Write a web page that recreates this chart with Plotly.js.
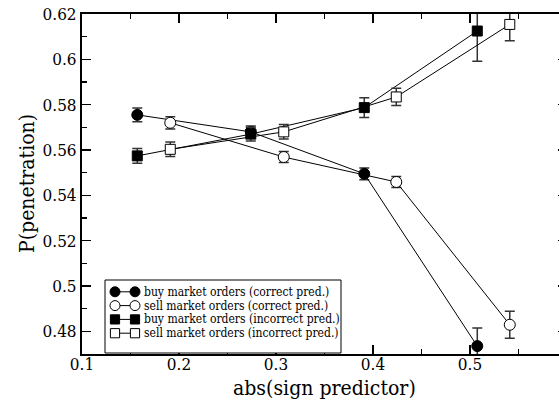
<!DOCTYPE html>
<html>
<head>
<meta charset="utf-8">
<script src="https://cdn.plot.ly/plotly-3.0.1.min.js"></script>
<style>
html,body{margin:0;padding:0;overflow:hidden;background:#fff;}
#chart{width:570px;height:403px;}
</style>
</head>
<body>
<div id="chart"></div>
<script>
// ---- data ----
var seriesNames = [
  "buy market orders (correct pred.)",
  "sell market orders (correct pred.)",
  "buy market orders (incorrect pred.)",
  "sell market orders (incorrect pred.)"
];
var xBuyCorrect  = [0.157, 0.274, 0.391, 0.5075];
var yBuyCorrect  = [0.5755, 0.568, 0.5495, 0.4735];
var eBuyCorrect  = [0.0030, 0.0026, 0.0026, 0.0080];

var xSellCorrect = [0.191, 0.308, 0.424, 0.541];
var ySellCorrect = [0.5720, 0.5569, 0.5459, 0.4829];
var eSellCorrect = [0.0027, 0.0024, 0.0024, 0.0060];

var xBuyIncorrect = [0.157, 0.274, 0.391, 0.5075];
var yBuyIncorrect = [0.5574, 0.5670, 0.5787, 0.6125];
var eBuyIncorrect = [0.0033, 0.0030, 0.0044, 0.0133];

var xSellIncorrect = [0.191, 0.308, 0.424, 0.541];
var ySellIncorrect = [0.5603, 0.5680, 0.5834, 0.6154];
var eSellIncorrect = [0.0032, 0.0032, 0.0038, 0.0072];

var xTicks = [0.1, 0.2, 0.3, 0.4, 0.5];
var xTitle = "abs(sign predictor)";
var yTitle = "P(penetration)";

// ---- styling ----
var FONT = "'DejaVu Serif Condensed', 'DejaVu Serif'";
var styles = [
  {symbol: "circle", fill: "#000000", size: 11},
  {symbol: "circle", fill: "#ffffff", size: 11},
  {symbol: "square", fill: "#000000", size: 10},
  {symbol: "square", fill: "#ffffff", size: 10}
];
var xs = [xBuyCorrect, xSellCorrect, xBuyIncorrect, xSellIncorrect];
var ys = [yBuyCorrect, ySellCorrect, yBuyIncorrect, ySellIncorrect];
var es = [eBuyCorrect, eSellCorrect, eBuyIncorrect, eSellIncorrect];

var traces = [];
for (var i = 0; i < 4; i++) {
  traces.push({
    type: "scatter",
    mode: "lines+markers",
    name: seriesNames[i],
    x: xs[i],
    y: ys[i],
    cliponaxis: true,
    line: {color: "#000000", width: 1},
    marker: {symbol: styles[i].symbol, size: styles[i].size, color: styles[i].fill,
             line: {color: "#000000", width: 1}},
    error_y: {type: "data", array: es[i], visible: true, color: "#333333",
              thickness: 1.5, width: 5},
    showlegend: false
  });
}

// ---- hand-drawn legend (layout decoration in pixel terms) ----
var PL = 82, PW = 485, PT = 14, PH = 340;
function px(v){ return (v - PL) / PW; }
function py(v){ return (PT + PH - v) / PH; }
var shapes = [];
var annotations = [];
shapes.push({type: "rect", xref: "paper", yref: "paper",
  x0: px(105), x1: px(341), y0: py(353), y1: py(280),
  line: {color: "#000000", width: 1}, fillcolor: "#ffffff", layer: "above"});
var rowY = [291.8, 305.6, 319.4, 333.2];
for (var r = 0; r < 4; r++) {
  var yc = rowY[r];
  shapes.push({type: "line", xref: "paper", yref: "paper",
    x0: px(115), x1: px(135), y0: py(yc), y1: py(yc),
    line: {color: "#000000", width: 1}, layer: "above"});
  [115, 135].forEach(function(cx){
    var h = styles[r].symbol === "circle" ? 5 : 4.6;
    shapes.push({type: styles[r].symbol === "circle" ? "circle" : "rect",
      xref: "paper", yref: "paper",
      x0: px(cx - h), x1: px(cx + h), y0: py(yc + h), y1: py(yc - h),
      fillcolor: styles[r].fill, line: {color: "#000000", width: 1}, layer: "above"});
  });
  annotations.push({xref: "paper", yref: "paper", x: px(142), y: py(yc),
    xanchor: "left", yanchor: "middle", showarrow: false,
    text: seriesNames[r], font: {family: FONT, size: 12, color: "#000000"}});
}
// axis titles placed as annotations for exact positioning
annotations.push({xref: "paper", yref: "paper", x: px(324.5), y: py(388),
  xanchor: "center", yanchor: "middle", showarrow: false,
  text: xTitle, font: {family: FONT, size: 21, color: "#000000"}});
annotations.push({xref: "paper", yref: "paper", x: px(27), y: py(184),
  xanchor: "center", yanchor: "middle", showarrow: false, textangle: -90,
  text: yTitle, font: {family: FONT, size: 21, color: "#000000"}});

var layout = {
  width: 570, height: 403,
  margin: {l: 82, r: 3, t: 14, b: 49},
  paper_bgcolor: "#ffffff", plot_bgcolor: "#ffffff",
  font: {family: FONT, color: "#000000"},
  showlegend: false,
  xaxis: {
    range: [0.1, 0.6], tickvals: xTicks, ticktext: xTicks.map(String),
    ticks: "inside", ticklen: 9, tickwidth: 1.2, tickcolor: "#000000",
    ticklabelstandoff: -6,
    showline: true, linewidth: 2, linecolor: "#000000", mirror: "ticks",
    showgrid: false, zeroline: false,
    minor: {dtick: 0.05, tick0: 0.1, ticks: "inside", ticklen: 5, tickwidth: 1.2, tickcolor: "#000000", showgrid: false},
    tickfont: {family: FONT, size: 17, color: "#000000"}
  },
  yaxis: {
    range: [0.47, 0.62], dtick: 0.02, tick0: 0.48,
    ticks: "inside", ticklen: 9, tickwidth: 1.2, tickcolor: "#000000",
    showline: true, linewidth: 2, linecolor: "#000000", mirror: "ticks",
    showgrid: false, zeroline: false,
    minor: {dtick: 0.01, tick0: 0.47, ticks: "inside", ticklen: 5, tickwidth: 1.2, tickcolor: "#000000", showgrid: false},
    tickfont: {family: FONT, size: 17, color: "#000000"}
  },
  shapes: shapes,
  annotations: annotations
};

Plotly.newPlot("chart", traces, layout, {staticPlot: true, displayModeBar: false});
</script>
</body>
</html>
